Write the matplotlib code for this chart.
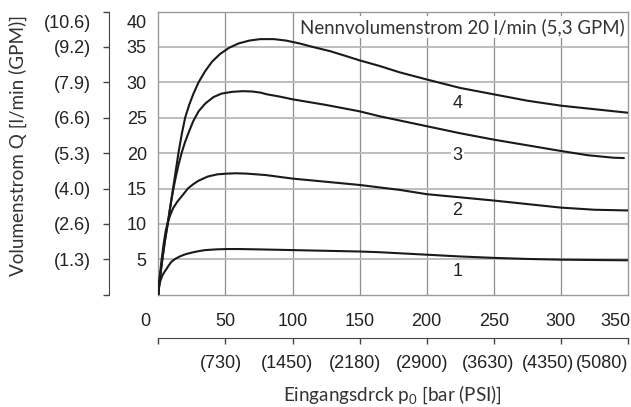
import matplotlib.pyplot as plt
from matplotlib.transforms import blended_transform_factory, offset_copy

# --- data ---
# pressure in bar, flow in l/min
p1 = [0, 0.5, 1, 2, 3, 4.5, 6, 8, 10, 13, 16, 20, 25, 30, 35, 43, 51, 60, 75, 100,
      125, 150, 165, 180, 200, 225, 250, 275, 300, 325, 350]
q1 = [0, 1.0, 1.6, 2.2, 2.7, 3.2, 3.6, 4.2, 4.7, 5.1, 5.4, 5.7, 5.95, 6.15, 6.3, 6.4, 6.45, 6.45, 6.4, 6.3,
      6.2, 6.1, 6.0, 5.85, 5.65, 5.4, 5.2, 5.05, 4.95, 4.9, 4.86]

p2 = [0, 1, 2.5, 4, 5.5, 7, 9, 11, 14, 17, 20, 22, 26, 30, 37, 44, 51, 58, 66, 73, 80, 90, 100,
      125, 150, 180, 200, 225, 250, 275, 300, 325, 350]
q2 = [0, 2.5, 5, 7.2, 9, 10.2, 11.3, 12.2, 13.1, 13.8, 14.5, 15.0, 15.6, 16.1, 16.7, 17.0, 17.1, 17.15,
      17.1, 17.0, 16.9, 16.65, 16.4, 15.95, 15.5, 14.8, 14.2, 13.75, 13.3, 12.8, 12.3, 12.0, 11.9]

p3 = [0, 1, 2, 3, 5, 7, 9, 11, 13, 15, 17.5, 20, 23, 26, 30, 35, 41, 47, 55, 63, 70, 76, 81, 90,
      100, 125, 150, 165, 180, 200, 225, 250, 275, 300, 320, 339, 347]
q3 = [0, 2, 3.5, 5, 7.7, 10, 12.5, 14.7, 16.6, 18.3, 20.1, 21.6, 23.1, 24.5, 25.9, 27.0, 27.9, 28.4,
      28.65, 28.75, 28.7, 28.55, 28.3, 28.0, 27.6, 26.8, 25.9, 25.2, 24.6, 23.8, 22.8, 21.9, 21.1, 20.3,
      19.7, 19.35, 19.3]

p4 = [0, 1, 2, 3, 5, 7, 9, 11, 13, 15, 17.5, 20, 23, 26, 30, 35, 40, 46, 53, 60, 68, 76, 86, 95,
      105, 115, 128, 140, 150, 165, 180, 200, 225, 250, 275, 300, 325, 350]
q4 = [0, 2, 3.5, 5, 7.7, 10, 12.5, 15, 17.5, 20, 22.7, 25, 26.8, 28.3, 30, 31.6, 32.9, 34, 34.9, 35.5,
      35.9, 36.1, 36.1, 35.9, 35.5, 35.0, 34.4, 33.7, 33.1, 32.3, 31.4, 30.4, 29.2, 28.3, 27.4, 26.7,
      26.2, 25.7]

curves = [(p1, q1), (p2, q2), (p3, q3), (p4, q4)]
curve_names = ['1', '2', '3', '4']
name_x = 223
name_q = [3.3, 11.9, 19.7, 27.0]

bar_ticks = [0, 50, 100, 150, 200, 250, 300, 350]
psi_ticks = [50, 100, 150, 200, 250, 300, 350]
psi_labels = ['(730)', '(1450)', '(2180)', '(2900)', '(3630)', '(4350)', '(5080)']
q_ticks = [5, 10, 15, 20, 25, 30, 35, 40]
gpm_labels = ['(1.3)', '(2.6)', '(4.0)', '(5.3)', '(6.6)', '(7.9)', '(9.2)', '(10.6)']

note = 'Nennvolumenstrom 20 l/min (5,3 GPM)'

plt.rcParams['font.family'] = ['Liberation Sans', 'DejaVu Sans']
W, H = 631, 407
fig = plt.figure(figsize=(W / 100, H / 100), dpi=100)
x0, x1, y0, y1 = 158.3, 628.0, 294.7, 11.5
ax = fig.add_axes([x0 / W, 1 - y0 / H, (x1 - x0) / W, (y0 - y1) / H])
ax.set_xlim(0, 350)
ax.set_ylim(0, 40)

for v in bar_ticks[1:-1]:
    ax.axvline(v, color='#8e8e8e', lw=0.9, zorder=1)
for v in q_ticks[:-1]:
    ax.axhline(v, color='#b8b8b8', lw=1.3, zorder=1)
for s in ax.spines.values():
    s.set_color('#9a9a9a')
    s.set_linewidth(1.0)
ax.set_xticks([])
ax.set_yticks([])

for p, q in curves:
    ax.plot(p, q, color='#1a1a1a', lw=1.5, zorder=3, solid_capstyle='round', solid_joinstyle='round')

txt = dict(fontsize=13, color='#222222')
for name, q in zip(curve_names, name_q):
    bb = dict(facecolor='white', edgecolor='none', pad=1) if name == '3' else None
    ax.text(name_x, q, name, ha='center', va='center', bbox=bb, zorder=4, **txt)

ax.text(100, 1, note, transform=offset_copy(blended_transform_factory(ax.transData, ax.transAxes),
                                            fig=fig, x=7, y=-21.5, units='dots'),
        ha='left', va='baseline', fontsize=13.4, family=['Lato', 'DejaVu Sans'], color='#333333',
        bbox=dict(facecolor='white', edgecolor='none', pad=1.5), zorder=5)

# y tick labels (l/min)
ty = blended_transform_factory(ax.transAxes, ax.transData)
for v in q_ticks:
    dy = -10 if v == 40 else 0
    ax.text(0, v, str(v), transform=offset_copy(ty, fig=fig, x=-11.5, y=dy, units='dots'),
            ha='right', va='center_baseline', **txt)

# GPM axis
gpm = ax.secondary_yaxis(-(x0 - 109) / (x1 - x0))
gpm.set_yticks([0] + q_ticks)
gpm.tick_params(axis='y', direction='out', length=4, width=1.0, color='#444444', labelleft=False)
gpm.spines['left'].set_color('#444444')
for v, lab in zip(q_ticks, gpm_labels):
    dy = -10 if v == 40 else 0
    ax.text(0, v, lab, transform=offset_copy(ty, fig=fig, x=-(x0 - 91), y=dy, units='dots'),
            ha='right', va='center_baseline', **txt)

# x tick labels (bar)
tx = blended_transform_factory(ax.transData, ax.transAxes)
for v in bar_ticks:
    dx = -13 if v == 0 else (2 if v == 350 else 0)
    ha = 'right' if v == 350 else 'center'
    ax.text(v, 0, str(v), transform=offset_copy(tx, fig=fig, x=dx, y=-(319.5 - y0), units='dots'),
            ha=ha, va='center_baseline', **txt)

# PSI axis
psi = ax.secondary_xaxis(-(337.7 - y0) / (y0 - y1))
psi.set_xticks(bar_ticks)
psi.tick_params(axis='x', direction='out', length=4, width=1.0, color='#444444', labelbottom=False)
psi.spines['bottom'].set_color('#444444')
psi_dx = [-4, -6, -5, -5, -6, -13, 0]
for v, lab, dx in zip(psi_ticks, psi_labels, psi_dx):
    ha = 'right' if v == 350 else 'center'
    ax.text(v, 0, lab, transform=offset_copy(tx, fig=fig, x=dx, y=-(362 - y0), units='dots'),
            ha=ha, va='center_baseline', **txt)

fig.text(18 / W, 1 - 145 / H, 'Volumenstrom Q [l/min (GPM)]', rotation=90, ha='center', va='center',
         fontsize=13.6, family=['Lato', 'DejaVu Sans'], color='#333333')
fig.text(392 / W, 1 - 395 / H, 'Eingangsdrck p$_\\mathregular{0}$ [bar (PSI)]', ha='center', va='center',
         fontsize=13.6, family=['Lato', 'DejaVu Sans'], color='#333333')

fig.savefig('out.png', dpi=100)
